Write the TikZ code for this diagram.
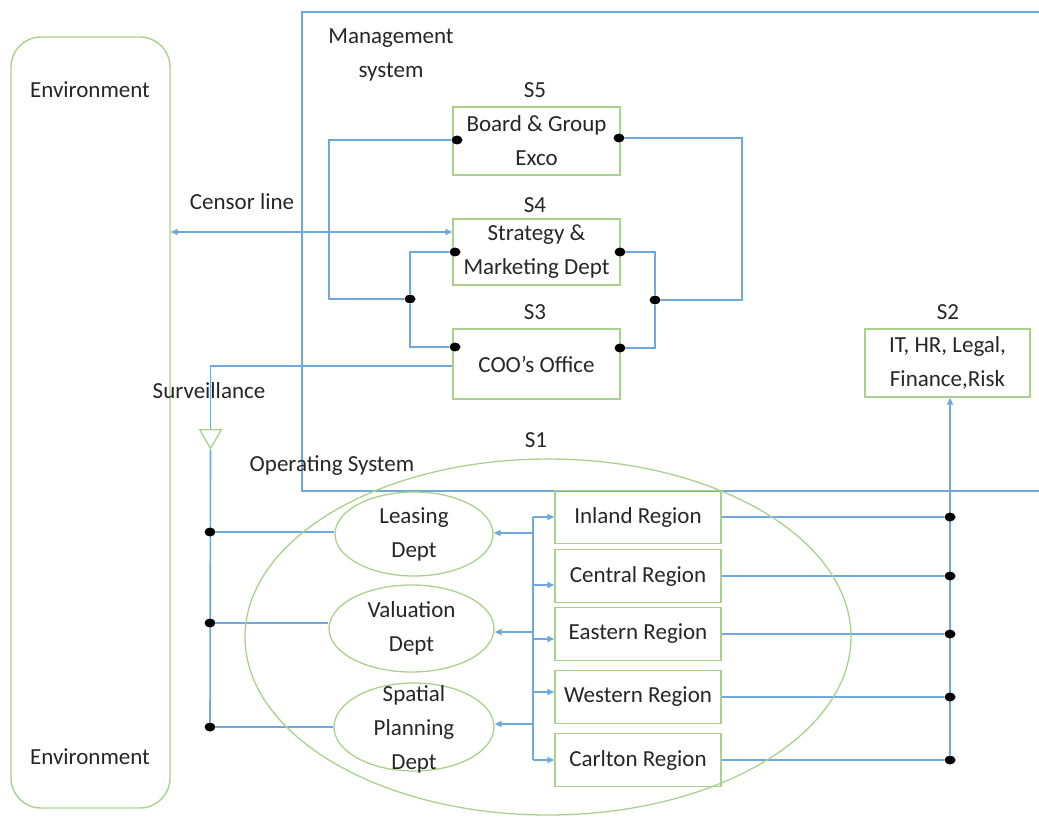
\documentclass[tikz,border=0pt]{standalone}
\usepackage{fontspec}
\setmainfont{Carlito}
\usetikzlibrary{shapes.geometric,arrows.meta,calc}
\definecolor{linkblue}{HTML}{6FA8DC}
\definecolor{boxgreen}{HTML}{A9D18E}
\definecolor{ink}{HTML}{262626}
\pgfdeclarelayer{bg}
\pgfsetlayers{bg,main}
\begin{document}
\begin{tikzpicture}[x=1pt,y=-1pt,
  every node/.style={text=ink,font=\fontsize{23}{34}\selectfont,align=center,inner sep=0pt},
  link/.style={draw=linkblue,line width=1.6pt},
  tip/.style={-{Triangle[length=7pt,width=6pt]}},
  twotips/.style={{Triangle[length=7pt,width=6pt]}-{Triangle[length=7pt,width=6pt]}},
  box/.style={draw=boxgreen,line width=1.4pt,minimum width=167pt,minimum height=68pt},
  regbox/.style={draw=boxgreen,line width=1.4pt,minimum width=166pt,minimum height=53pt},
  dept/.style={ellipse,draw=boxgreen,line width=1.3pt},
  dotn/.style={ellipse,fill=black,minimum width=11pt,minimum height=9pt},
  tri/.style={regular polygon,regular polygon sides=3,shape border rotate=180,
    draw=boxgreen,line width=1.3pt,minimum size=25pt},
]
\useasboundingbox (0,0) rectangle (1039,818);

% environment
\node[draw=boxgreen,line width=1.4pt,rounded corners=30pt,
  minimum width=159pt,minimum height=771pt] (env) at (90.5,422.5) {};
\node (envtop) at (90,90) {Environment};
\node (envbot) at (90,757) {Environment};

% management system frame (open to the right)
\draw[link] (1039,12) -- (302,12) -- (302,491) -- (1039,491);
\node (mgmt) at (391,55) {Management\\system};

% management functions
\node[box] (s5) at (536.5,141) {Board \& Group\\Exco};
\node (s5lab) at (535,90) {S5};
\node[box,minimum height=66pt] (s4) at (536.5,252) {Strategy \&\\Marketing Dept};
\node (s4lab) at (535,205) {S4};
\node[box,minimum height=70pt] (s3) at (536.5,364) {COO’s Office};
\node (s3lab) at (535,312) {S3};
\node[box,minimum width=165pt] (s2) at (947.5,363) {IT, HR, Legal,\\Finance,Risk};
\node (s2lab) at (948,312) {S2};

% junction dots of the S3-S4-S5 loops
\node[dotn] (d5l) at (457,140) {};
\node[dotn] (d5r) at (619,138) {};
\node[dotn] (d4l) at (455,252) {};
\node[dotn] (d4r) at (620,252) {};
\node[dotn] (d3l) at (455,347) {};
\node[dotn] (d3r) at (620,348) {};
\node[dotn] (dlm) at (410,299) {};
\node[dotn] (drm) at (655,300) {};
\coordinate (lloop) at (329,299);
\coordinate (rloop) at (742,300);

% operating system
\node[ellipse,draw=boxgreen,line width=1.3pt,minimum width=606pt,minimum height=356pt] (s1) at (548,637) {};
\node (s1lab) at (536,440) {S1};
\node (oplab) at (332,466) {Operating System};

\node[dept,minimum width=158pt,minimum height=84pt] (lea) at (414,534) {};
\node (leatxt) at (lea.center) {Leasing\\Dept};
\node[dept,minimum width=165pt,minimum height=87pt] (val) at (411.5,628.5) {};
\node (valtxt) at (val.center) {Valuation\\Dept};
\node[dept,minimum width=160pt,minimum height=88pt] (spa) at (414,727) {};
\node (spatxt) at (414,729) {Spatial\\Planning\\Dept};

\node[regbox] (inl) at (638,517) {Inland Region};
\node[regbox] (cen) at (638,576) {Central Region};
\node[regbox] (eas) at (638,634) {Eastern Region};
\node[regbox] (wes) at (638,697) {Western Region};
\node[regbox] (car) at (638,760) {Carlton Region};

% surveillance channel
\node[tri] (tri) at (210.5,436) {};
\coordinate (tritop) at ($(tri.corner 2)!0.5!(tri.corner 3)$);
\node (survlab) at (209,391) {Surveillance};
\node[dotn] (dL) at (210,532) {};
\node[dotn] (dV) at (210,623) {};
\node[dotn] (dS) at (210,727) {};

\node (censlab) at (242,202) {Censor line};
\coordinate (clr) at ($(s4.west)+(0,-20)$);

% region bus to S2
\coordinate (rbus) at (950,0);
\node[dotn] (dI) at (inl.east -| rbus) {};
\node[dotn] (dC) at (cen.east -| rbus) {};
\node[dotn] (dE) at (eas.east -| rbus) {};
\node[dotn] (dW) at (wes.east -| rbus) {};
\node[dotn] (dK) at (car.east -| rbus) {};

% distribution bus from regions to departments
\coordinate (lbt) at (533,517);
\coordinate (lbl) at (533,533);
\coordinate (lbc) at (533,585);
\coordinate (lbv) at (533,632);
\coordinate (lbe) at (533,639);
\coordinate (lbw) at (533,692);
\coordinate (lbs) at (533,724);
\coordinate (lbb) at (533,760);

\begin{pgfonlayer}{bg}
  % S3-S4-S5 loops
  \draw[link] (d5l) -| (lloop) -- (dlm);
  \draw[link] (d5r) -| (rloop) -- (drm);
  \draw[link] (d4l) -| (dlm) |- (d3l);
  \draw[link] (d4r) -| (drm) |- (d3r);
  % censor line
  \draw[link,twotips] (env.east |- clr) -- (clr);
  % S3 to S2
  \draw[link] ($(s3.east)+(0,4)$) -- ($(s3.east)+(0,4)$ -| s2.west);
  % surveillance
  \draw[link] ($(s3.west)+(0,2)$) -| (tritop);
  \draw[link] (tri.corner 1) -- (dS);
  \draw[link] (dL) -- (dL -| lea.west);
  \draw[link] (dV) -- (dV -| val.west);
  \draw[link] (dS) -- (spa.west);
  % regions to S2
  \draw[link] (inl.east) -- (dI);
  \draw[link] (cen.east) -- (dC);
  \draw[link] (eas.east) -- (dE);
  \draw[link] (wes.east) -- (dW);
  \draw[link] (car.east) -- (dK);
  \draw[link,tip] (dK) -- (dK |- s2.south);
  % distribution bus
  \draw[link] (lbt) -- (lbb);
  \draw[link,tip] (lbt) -- (inl.west |- lbt);
  \draw[link,tip] (lbc) -- (cen.west |- lbc);
  \draw[link,tip] (lbe) -- (eas.west |- lbe);
  \draw[link,tip] (lbw) -- (wes.west |- lbw);
  \draw[link,tip] (lbb) -- (car.west |- lbb);
  \draw[link,tip] (lbl) -- (lbl -| lea.east);
  \draw[link,tip] (lbv) -- (lbv -| val.east);
  \draw[link,tip] (lbs) -- (lbs -| spa.east);
\end{pgfonlayer}
\end{tikzpicture}
\end{document}
